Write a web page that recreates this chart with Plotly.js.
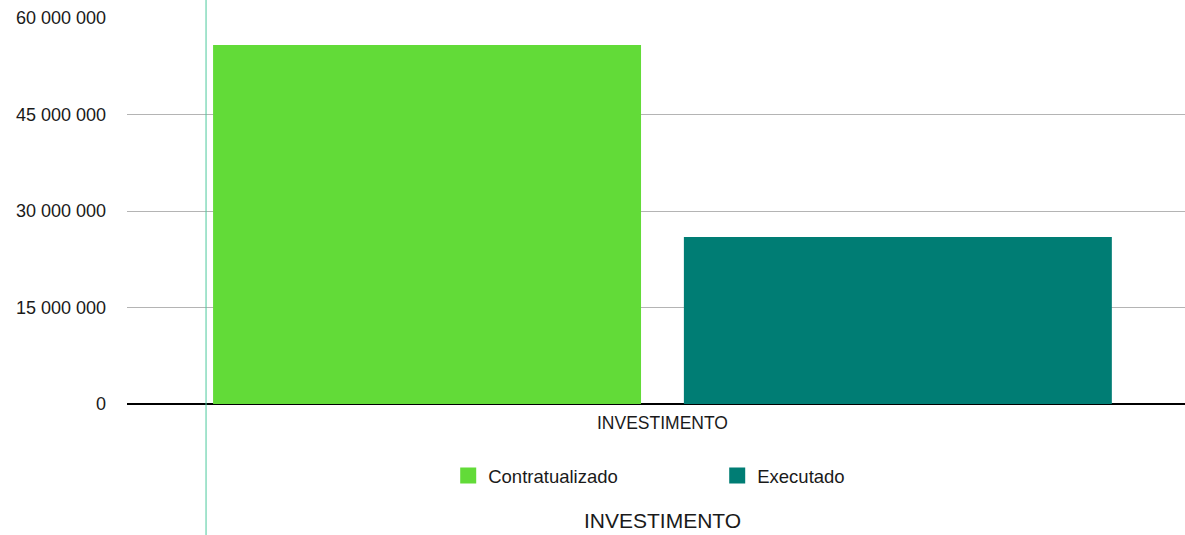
<!DOCTYPE html>
<html><head><meta charset="utf-8">
<script src="https://cdn.plot.ly/plotly-3.0.1.min.js"></script>
<style>html,body{margin:0;padding:0;background:#fff}#c{width:1185px;height:535px}</style>
</head><body><div id="c"></div>
<script>
const categories = ["INVESTIMENTO"];
const seriesNames = ["Contratualizado", "Executado"];
const contratualizado = [55800000];
const executado = [25950000];
const colors = ["#62db38", "#007d74"];
const yTicks = [0, 15000000, 30000000, 45000000, 60000000];

const data = [
  {type:"bar", x:categories, y:contratualizado, name:seriesNames[0], marker:{color:colors[0]}, showlegend:false},
  {type:"bar", x:categories, y:executado, name:seriesNames[1], marker:{color:colors[1]}, showlegend:false},
  {type:"scatter", mode:"markers", x:[null], y:[null], name:seriesNames[0], marker:{symbol:"square", size:17, color:colors[0]}},
  {type:"scatter", mode:"markers", x:[null], y:[null], name:seriesNames[1], marker:{symbol:"square", size:17, color:colors[1]}}
];
const layout = {
  width:1185, height:535,
  margin:{l:127, r:0, t:18, b:131},
  paper_bgcolor:"#fff", plot_bgcolor:"#fff",
  separators:", ",
  font:{family:"Liberation Sans, Arial, sans-serif", color:"#1a1a1a", size:18},
  barmode:"group", bargap:0.11, bargroupgap:0.091,
  showlegend:true,
  legend:{orientation:"h", x:0.3036, xanchor:"left", y:-0.137, yanchor:"top", entrywidth:224, entrywidthmode:"pixels", font:{size:18.5, color:"#1a1a1a"}, bgcolor:"rgba(0,0,0,0)"},
  xaxis:{type:"category", range:[-0.5061, 0.4939], showgrid:false, zeroline:false, showline:false, ticks:"", ticklabelstandoff:6, tickfont:{size:17.5}, automargin:false, fixedrange:true},
  yaxis:{range:[0, 60000000], tickvals:yTicks, tickformat:",d", showgrid:true, gridcolor:"#b4b4b4", gridwidth:1, zeroline:true, zerolinecolor:"#000", zerolinewidth:2, showline:false, ticks:"", ticklabelstandoff:20, tickfont:{size:18}, automargin:false, fixedrange:true},
  annotations:[{text:"INVESTIMENTO", xref:"x", x:0, yref:"paper", y:-0.302, xanchor:"center", yanchor:"middle", showarrow:false, borderpad:0, font:{size:21, color:"#1a1a1a"}}],
  shapes:[{type:"line", xref:"paper", yref:"paper", x0:0.0747, x1:0.0747, y0:-0.34, y1:1.05, line:{color:"#4cc99c", width:1}}]
};
Plotly.newPlot("c", data, layout, {staticPlot:true, displayModeBar:false});
</script></body></html>
